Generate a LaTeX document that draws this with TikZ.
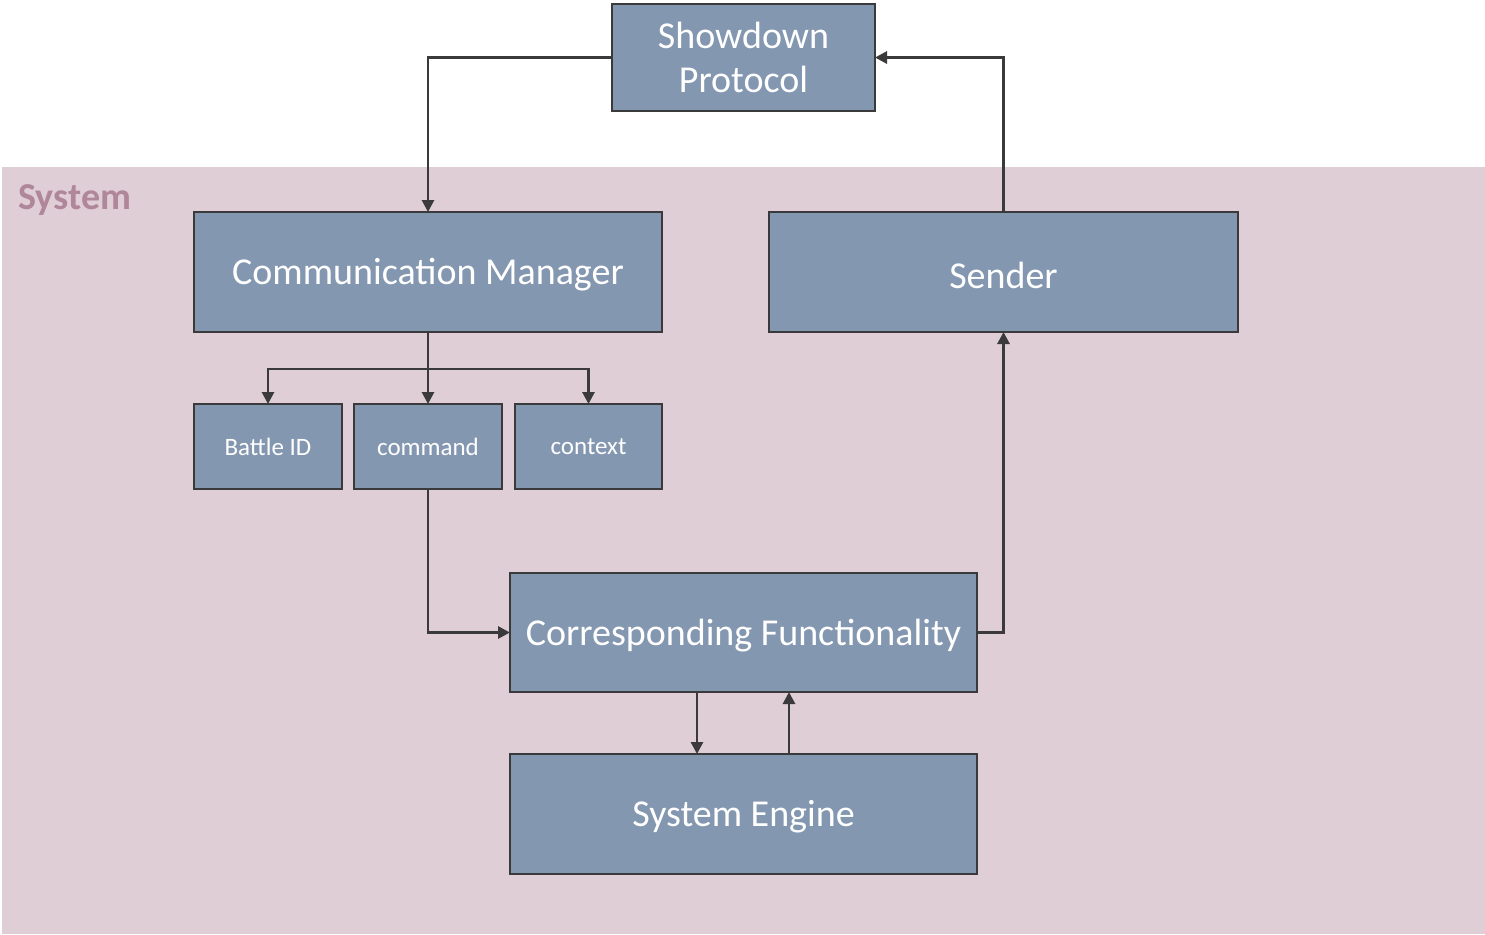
\documentclass[tikz,border=0pt]{standalone}
\usepackage{fontspec}
\setmainfont{Carlito}
\usetikzlibrary{arrows.meta}
\definecolor{boxfill}{HTML}{8497B0}
\definecolor{boxline}{HTML}{3A3A3A}
\definecolor{sysbg}{HTML}{DFCED6}
\definecolor{systxt}{HTML}{B0869A}
\newcommand{\lowtxt}[1]{\raisebox{-1.5pt}[\height][\depth]{#1}}
\tikzset{
  box/.style={draw=boxline, line width=1pt, fill=boxfill, text=white, inner sep=0pt, outer sep=0pt, align=center, font=\fontsize{19}{22}\selectfont},
  smallbox/.style={box, font=\fontsize{12.5}{15}\selectfont},
  arr/.style={draw=boxline, line width=1.4pt, -{Triangle[length=6pt,width=6pt]}},
}
\begin{document}
\begin{tikzpicture}[x=0.5pt,y=-0.5pt]
\useasboundingbox (0,0) rectangle (1485,934);
\fill[white] (0,0) rectangle (1485,934);
\fill[sysbg] (2,167) rectangle (1485,934);
\node[anchor=west, inner sep=0pt, text=systxt, font=\fontsize{19}{22}\selectfont\bfseries] (syslabel) at (18,200) {System};

\node[box, minimum width=131.5pt, minimum height=53.5pt] (SP) at (743.5,57.5) {Showdown\\Protocol};
\node[box, minimum width=234pt, minimum height=60pt] (CM) at (428,272) {\lowtxt{Communication Manager}};
\node[box, minimum width=234.5pt, minimum height=60pt] (SD) at (1003.5,272) {\lowtxt{Sender}};
\node[smallbox, minimum width=74pt, minimum height=42.5pt] (BID) at (268,446.5) {Battle ID};
\node[smallbox, minimum width=74pt, minimum height=42.5pt] (CMD) at (428,446.5) {command};
\node[smallbox, minimum width=73.5pt, minimum height=42.5pt] (CTX) at (588.5,446.5) {context};
\node[box, minimum width=233.5pt, minimum height=59.5pt] (CF) at (743.5,632.5) {\lowtxt{Corresponding Functionality}};
\node[box, minimum width=233.5pt, minimum height=60pt] (SE) at (743.5,814) {\lowtxt{System Engine}};

\coordinate (br) at (428,369);
\coordinate (xa) at (697,0);
\coordinate (xb) at (789,0);

\draw[arr] (SP.west) -| (CM.north);
\draw[arr] (SD.north) |- (SP.east);
\draw[arr] (CM.south) -- (CMD.north);
\draw[arr] (br) -| (BID.north);
\draw[arr] (br) -| (CTX.north);
\draw[arr] (CMD.south) |- (CF.west);
\draw[arr] (CF.east) -| (SD.south);
\draw[arr] (CF.south -| xa) -- (SE.north -| xa);
\draw[arr] (SE.north -| xb) -- (CF.south -| xb);
\end{tikzpicture}
\end{document}
